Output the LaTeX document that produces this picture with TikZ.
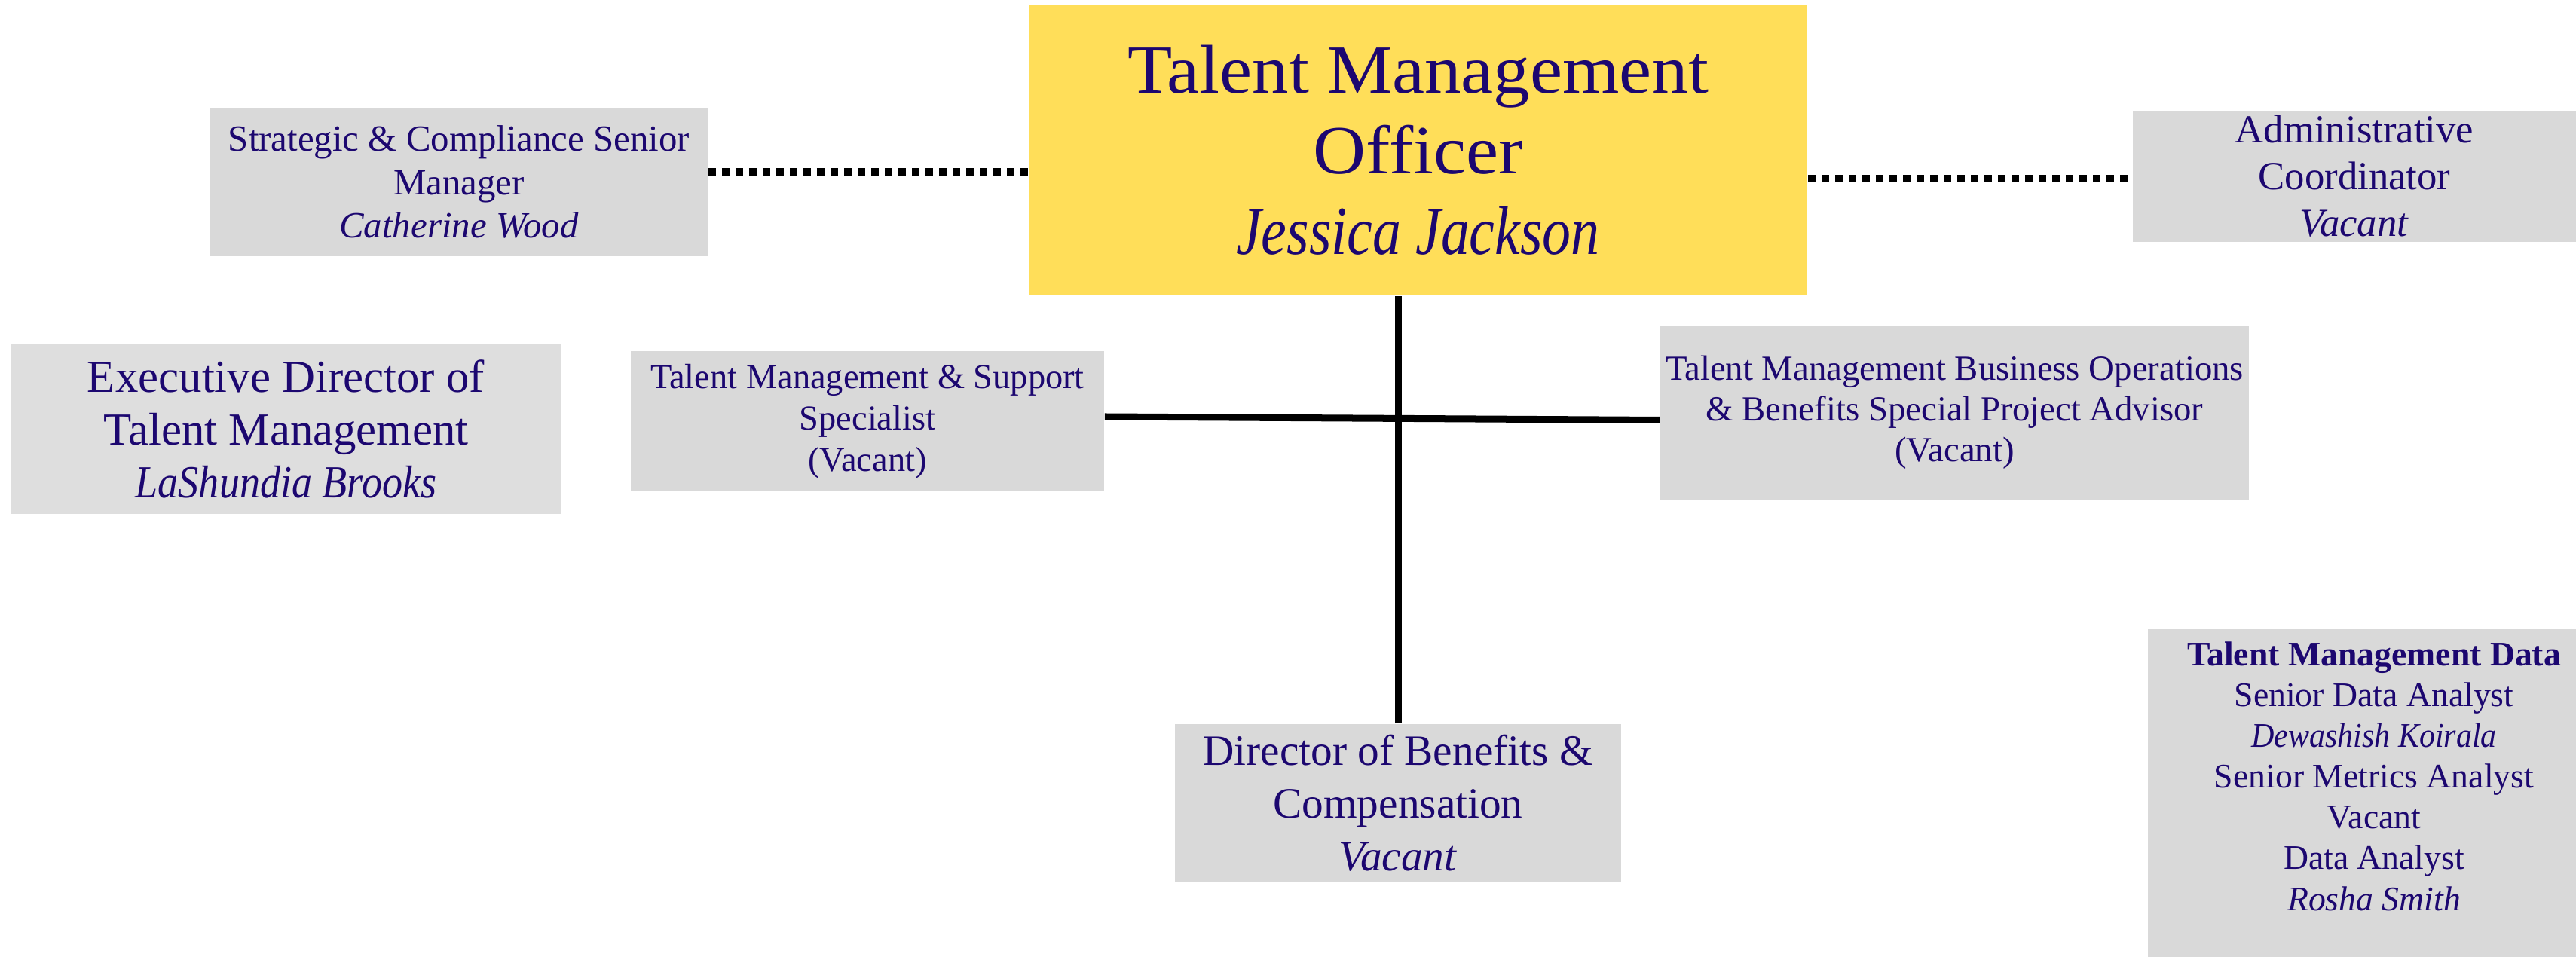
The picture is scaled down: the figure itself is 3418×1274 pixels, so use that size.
\documentclass[tikz,border=0pt]{standalone}
\usepackage{graphicx}
\usepackage{fontspec}
\setmainfont{Liberation Serif}
\definecolor{ink}{HTML}{1C0770}
\definecolor{boxgrey}{HTML}{D9D9D9}
\definecolor{boxlight}{HTML}{DEDEDE}
\definecolor{tmoyellow}{HTML}{FFDE59}
\begin{document}
\begin{tikzpicture}[x=0.01cm,y=-0.01cm,
  box/.style={fill=boxgrey, draw=none, inner sep=0pt, align=center, text=ink},
  txt/.style={inner sep=0pt, align=center, text=ink},
  conn/.style={line width=0.09cm, black},
  dotline/.style={line width=0.1cm, black, dash pattern=on 0.1cm off 0.08cm}]
\useasboundingbox (0,0) rectangle (3418,1274);
\fill[white] (0,0) rectangle (3418,1274);

% boxes
\node[box, fill=tmoyellow, minimum width=10.33cm, minimum height=3.85cm,
      font=\fontsize{26}{30.5}\selectfont] (TMO) at (1881.5,199.5)
      {\scalebox{1.06}[1]{Talent Management}\\\scalebox{1.06}[1]{Officer}\\\scalebox{0.83}[1]{\textit{Jessica Jackson}}};
\node[box, minimum width=6.60cm, minimum height=1.97cm,
      font=\fontsize{13.9}{16.4}\selectfont] (SCM) at (609,241.5)
      {Strategic \& Compliance Senior\\Manager\\\textit{Catherine Wood}};
\node[box, minimum width=5.88cm, minimum height=1.74cm,
      font=\fontsize{15}{17.6}\selectfont] (ADM) at (3124,234)
      {Administrative\\Coordinator\\\textit{Vacant}};
\node[box, fill=boxlight, minimum width=7.31cm, minimum height=2.25cm,
      font=\fontsize{17.3}{19.8}\selectfont] (EXD) at (379.5,569.5)
      {Executive Director of\\Talent Management\\\scalebox{0.89}[1]{\textit{LaShundia Brooks}}};
\node[box, minimum width=6.28cm, minimum height=1.86cm,
      font=\fontsize{13.2}{15.6}\selectfont] (TMS) at (1151,559)
      {Talent Management \& Support\\Specialist\\(Vacant)};
\node[box, minimum width=7.81cm, minimum height=2.31cm,
      font=\fontsize{13.3}{15.4}\selectfont] (TMB) at (2593.5,547.5)
      {Talent Management Business Operations\\\& Benefits Special Project Advisor\\(Vacant)};
\node[box, minimum width=5.92cm, minimum height=2.10cm,
      font=\fontsize{16.3}{19.9}\selectfont] (DBC) at (1855,1066)
      {Director of Benefits \&\\Compensation\\\textit{Vacant}};
\node[box, minimum width=5.68cm, minimum height=4.35cm] (TMD) at (3134,1052.5) {};
\node[txt, font=\fontsize{13}{15.4}\selectfont] (TMDt) at (3150,1030)
      {\textbf{Talent Management Data}\\Senior Data Analyst\\\scalebox{0.92}[1]{\textit{Dewashish Koirala}}\\Senior Metrics Analyst\\Vacant\\Data Analyst\\\textit{Rosha Smith}};

% connectors
\coordinate (d1) at ([yshift=0.135cm]SCM.east);
\draw[dotline] (d1) -- (d1 -| TMO.west);
\coordinate (d2) at ([yshift=-0.03cm]ADM.west);
\draw[dotline] (d2 -| TMO.east) -- (d2);
\draw[conn] (DBC.north) -- (DBC.north |- TMO.south);
\draw[conn] ([yshift=0.06cm]TMS.east) -- ([yshift=-0.1cm]TMB.west);
\end{tikzpicture}
\end{document}
